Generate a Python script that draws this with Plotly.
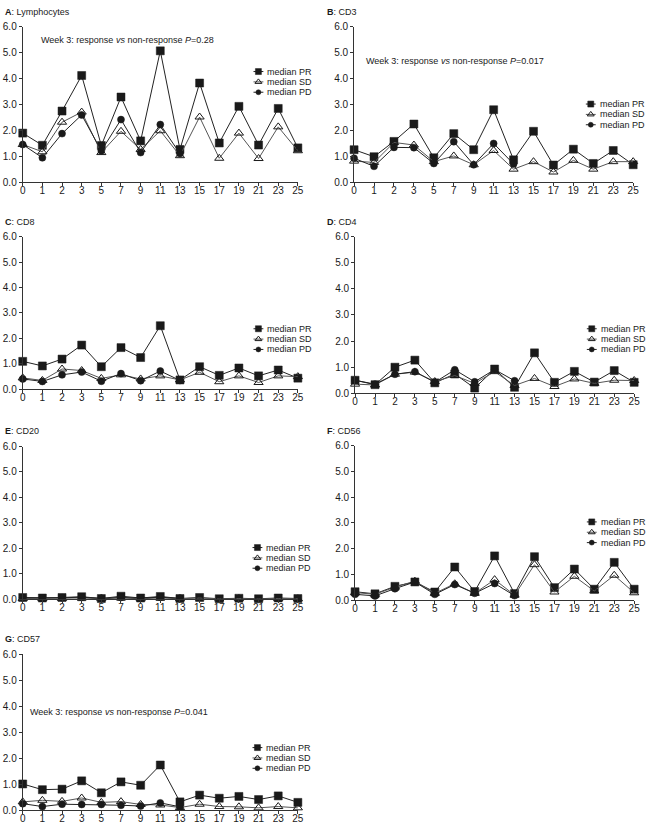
import plotly.graph_objects as go

W, H = 652, 828
FONT = "Liberation Sans"
INK = "#1a1a1a"

weeks = ["0", "1", "2", "3", "5", "7", "9", "11", "13", "15", "17", "19", "21", "23", "25"]
y_ticks = [0, 1, 2, 3, 4, 5, 6]

titles = ["A", "B", "C", "D", "E", "F", "G"]
names = ["Lymphocytes", "CD3", "CD8", "CD4", "CD20", "CD56", "CD57"]
series_names = ["median PR", "median SD", "median PD"]

pr_A = [1.90, 1.43, 2.75, 4.12, 1.42, 3.29, 1.60, 5.07, 1.27, 3.83, 1.52, 2.93, 1.44, 2.85, 1.33]
sd_A = [1.46, 1.18, 2.32, 2.71, 1.15, 1.97, 1.27, 1.99, 1.03, 2.52, 0.93, 1.90, 0.92, 2.14, 1.22]
pd_A = [1.46, 0.95, 1.88, 2.60, 1.22, 2.42, 1.15, 2.23, 1.11]

pr_B = [1.26, 0.99, 1.58, 2.25, 0.95, 1.88, 1.26, 2.80, 0.87, 1.97, 0.67, 1.28, 0.73, 1.23, 0.68]
sd_B = [0.82, 0.77, 1.54, 1.44, 0.80, 1.02, 0.68, 1.23, 0.51, 0.80, 0.40, 0.85, 0.51, 0.80, 0.80]
pd_B = [0.93, 0.62, 1.35, 1.34, 0.73, 1.57, 0.68, 1.50, 0.71]

pr_C = [1.10, 0.92, 1.19, 1.74, 0.89, 1.64, 1.25, 2.50, 0.37, 0.89, 0.55, 0.84, 0.53, 0.76, 0.44]
sd_C = [0.45, 0.35, 0.80, 0.74, 0.43, 0.57, 0.41, 0.53, 0.37, 0.67, 0.30, 0.53, 0.27, 0.53, 0.50]
pd_C = [0.41, 0.31, 0.57, 0.68, 0.32, 0.62, 0.34, 0.72, 0.35]

pr_D = [0.50, 0.33, 1.00, 1.27, 0.40, 0.74, 0.20, 0.93, 0.23, 1.55, 0.42, 0.84, 0.43, 0.87, 0.42]
sd_D = [0.35, 0.32, 0.73, 0.81, 0.45, 0.68, 0.38, 0.83, 0.30, 0.57, 0.26, 0.55, 0.38, 0.50, 0.49]
pd_D = [0.50, 0.35, 0.73, 0.83, 0.42, 0.90, 0.44, 0.91, 0.48]

pr_E = [0.07, 0.05, 0.07, 0.10, 0.03, 0.12, 0.05, 0.11, 0.03, 0.07, 0.02, 0.04, 0.02, 0.05, 0.03]
sd_E = [0.03, 0.03, 0.03, 0.05, 0.02, 0.05, 0.02, 0.05, 0.02, 0.05, 0.01, 0.03, 0.01, 0.03, 0.02]
pd_E = [0.06, 0.05, 0.06, 0.08, 0.04, 0.07, 0.05, 0.08, 0.04]

pr_F = [0.33, 0.25, 0.54, 0.71, 0.32, 1.29, 0.34, 1.72, 0.26, 1.69, 0.49, 1.21, 0.43, 1.47, 0.43]
sd_F = [0.30, 0.23, 0.51, 0.74, 0.27, 0.64, 0.27, 0.80, 0.20, 1.38, 0.32, 0.93, 0.36, 0.97, 0.29]
pd_F = [0.23, 0.17, 0.45, 0.71, 0.23, 0.61, 0.27, 0.65, 0.18]

pr_G = [1.01, 0.79, 0.81, 1.13, 0.67, 1.09, 0.96, 1.74, 0.32, 0.58, 0.46, 0.53, 0.41, 0.55, 0.30]
sd_G = [0.32, 0.38, 0.34, 0.47, 0.30, 0.33, 0.22, 0.20, 0.10, 0.23, 0.14, 0.13, 0.09, 0.14, 0.09]
pd_G = [0.25, 0.14, 0.23, 0.22, 0.22, 0.19, 0.16, 0.28, 0.13]

panel_data = [
    (pr_A, sd_A, pd_A), (pr_B, sd_B, pd_B), (pr_C, sd_C, pd_C), (pr_D, sd_D, pd_D),
    (pr_E, sd_E, pd_E), (pr_F, sd_F, pd_F), (pr_G, sd_G, pd_G),
]

p_texts = [
    "Week 3: response <i>vs</i> non-response <i>P</i>=0.28",
    "Week 3: response <i>vs</i> non-response <i>P</i>=0.017",
    None, None, None, None,
    "Week 3: response <i>vs</i> non-response <i>P</i>=0.041",
]

# layout (pixel geometry): x of first/last category, y of 0 and 6, legend centre row
geom = [
    dict(x0=20, x1=299, yb=179, yt=21, tx=0, ty=6, px=36, py=34, lx=259, lm=77),
    dict(x0=356, x1=639, yb=179, yt=21, tx=326, ty=6, px=366, py=56, lx=596, lm=110),
    dict(x0=20, x1=299, yb=389, yt=234, tx=0, ty=219, px=None, py=None, lx=259, lm=338),
    dict(x0=357, x1=640, yb=393, yt=234, tx=326, ty=219, px=None, py=None, lx=597, lm=338),
    dict(x0=20, x1=299, yb=602, yt=447, tx=0, ty=431, px=None, py=None, lx=258, lm=560),
    dict(x0=357, x1=640, yb=603, yt=446, tx=326, ty=431, px=None, py=None, lx=597, lm=534),
    dict(x0=20, x1=299, yb=816, yt=658, tx=0, ty=642, px=25, py=716, lx=258, lm=763),
]
ROW = 10.5

styles = [
    dict(symbol="square", size=8, color=INK, line=dict(color=INK, width=0.5)),
    dict(symbol="triangle-up-open", size=8, color=INK, line=dict(color=INK, width=1)),
    dict(symbol="circle", size=7, color=INK, line=dict(color=INK, width=0.5)),
]
line_colors = ["#222222", "#555555", "#222222"]

fig = go.Figure()
annotations = []
layout_axes = {}

for i, g in enumerate(geom):
    n = i + 1
    xa = "xaxis" if n == 1 else f"xaxis{n}"
    ya = "yaxis" if n == 1 else f"yaxis{n}"
    xr = "x" if n == 1 else f"x{n}"
    yr = "y" if n == 1 else f"y{n}"
    layout_axes[xa] = dict(
        domain=[g["x0"] / W, g["x1"] / W], anchor=yr, type="category",
        categoryorder="array", categoryarray=weeks, range=[0, len(weeks) - 1],
        showline=True, linecolor="#333", linewidth=1, ticks="outside", ticklen=3,
        tickcolor="#333", showgrid=False, zeroline=False, ticklabelstandoff=-4,
        tickfont=dict(family=FONT, size=10, color=INK),
    )
    layout_axes[ya] = dict(
        domain=[1 - g["yb"] / H, 1 - g["yt"] / H], anchor=xr, range=[0, 6],
        tickvals=y_ticks, tickformat=".1f",
        showline=True, linecolor="#333", linewidth=1, ticks="outside", ticklen=3,
        tickcolor="#333", showgrid=False, zeroline=False,
        tickfont=dict(family=FONT, size=10, color=INK),
    )
    for s, vals in enumerate(panel_data[i]):
        fig.add_trace(go.Scatter(
            x=weeks[:len(vals)], y=vals, xaxis=xr, yaxis=yr, mode="lines+markers",
            name=series_names[s], showlegend=False, cliponaxis=False,
            line=dict(color=line_colors[s], width=1), marker=styles[s],
        ))
    annotations.append(dict(
        xref="paper", yref="paper", x=g["tx"] / W, y=1 - g["ty"] / H,
        xanchor="left", yanchor="middle", showarrow=False,
        text=f"<b>{titles[i]}</b>: {names[i]}",
        font=dict(family=FONT, size=9, color=INK),
    ))
    if p_texts[i]:
        annotations.append(dict(
            xref="paper", yref="paper", x=g["px"] / W, y=1 - g["py"] / H,
            xanchor="left", yanchor="middle", showarrow=False, text=p_texts[i],
            font=dict(family=FONT, size=9, color=INK),
        ))
    # custom compact legend on a full-figure pixel overlay axis
    for s in range(3):
        ly = g["lm"] + (s - 1) * ROW
        fig.add_trace(go.Scatter(
            x=[g["lx"] - 5, g["lx"] + 5], y=[ly, ly],
            xaxis="x8", yaxis="y8", mode="lines", showlegend=False,
            hoverinfo="skip", cliponaxis=False,
            line=dict(color=line_colors[s], width=1),
        ))
        fig.add_trace(go.Scatter(
            x=[g["lx"]], y=[ly],
            xaxis="x8", yaxis="y8", mode="markers", showlegend=False,
            hoverinfo="skip", cliponaxis=False,
            marker=dict(styles[s], size=styles[s]["size"] - 2),
        ))
        annotations.append(dict(
            xref="paper", yref="paper", x=(g["lx"] + 7) / W, y=1 - ly / H, xanchor="left",
            yanchor="middle", showarrow=False, text=series_names[s],
            font=dict(family=FONT, size=9, color=INK),
        ))

layout_axes["xaxis8"] = dict(domain=[0, 1], range=[0, W], visible=False, anchor="y8", fixedrange=True)
layout_axes["yaxis8"] = dict(domain=[0, 1], range=[H, 0], visible=False, anchor="x8", fixedrange=True)

fig.update_layout(
    width=W, height=H, margin=dict(l=0, r=0, t=0, b=0),
    paper_bgcolor="white", plot_bgcolor="rgba(0,0,0,0)",
    showlegend=False, annotations=annotations, **layout_axes,
)

fig.write_html(
    "out.html",
    config={"displayModeBar": False},
    post_script="document.body.style.margin='0px';document.body.style.padding='0px';",
)
